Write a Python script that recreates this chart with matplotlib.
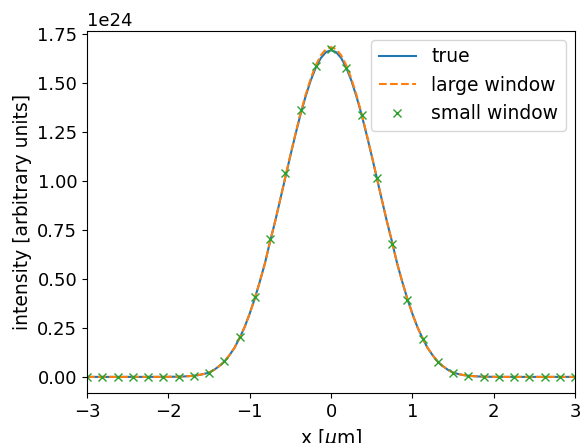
import numpy as np
import matplotlib.pyplot as plt

# true profile (units of 1e24), right half from x=0
x_true = np.arange(-3, 3.0001, 0.0625)
true_right = [1.668, 1.658, 1.628, 1.579, 1.513, 1.432, 1.340, 1.237, 1.129,
              1.017, 0.904, 0.793, 0.690, 0.580, 0.487, 0.400, 0.323, 0.254,
              0.198, 0.148, 0.110, 0.078, 0.055, 0.036, 0.022, 0.015, 0.0095,
              0.006, 0.0037, 0.0022, 0.0012, 0.0007, 0.0004, 0.0002, 0.0001,
              0.0, 0.0, 0.0, 0.0, 0.0, 0.0, 0.0, 0.0, 0.0, 0.0, 0.0, 0.0,
              0.0, 0.0]
true_vals = true_right[:0:-1] + true_right

# large window reconstruction
large_right = [1.684, 1.673, 1.642, 1.591, 1.523, 1.440, 1.346, 1.241, 1.132,
               1.019, 0.905, 0.794, 0.690, 0.580, 0.487, 0.400, 0.323, 0.254,
               0.198, 0.148, 0.110, 0.078, 0.055, 0.036, 0.022, 0.015, 0.0095,
               0.006, 0.0037, 0.0022, 0.0012, 0.0007, 0.0004, 0.0002, 0.0001,
               0.0, 0.0, 0.0, 0.0, 0.0, 0.0, 0.0, 0.0, 0.0, 0.0, 0.0, 0.0,
               0.0, 0.0]
large_vals = large_right[:0:-1] + large_right

# small window reconstruction (coarse sampling)
x_small = np.linspace(-3, 3, 33)
small_vals = [0.0, 0.0, 0.0, 0.0, 0.0, 0.0, 0.0, 0.007, 0.022, 0.079, 0.204,
              0.409, 0.704, 1.042, 1.363, 1.589, 1.673, 1.576, 1.336, 1.014,
              0.678, 0.395, 0.193, 0.077, 0.022, 0.005, 0.0, 0.0, 0.0, 0.0,
              0.0, 0.0, 0.0]

scale = 1e24

fig = plt.figure(figsize=(5.82, 4.43), dpi=100)
ax = fig.add_axes([0.1495, 0.112, 0.8385, 0.819])
ax.plot(x_true, np.array(true_vals) * scale, label='true')
ax.plot(x_true, np.array(large_vals) * scale, '--', label='large window')
ax.plot(x_small, np.array(small_vals) * scale, 'x', label='small window')
ax.set_xlim(-3, 3)
ax.set_xlabel(r'x [$\mu$m]', fontsize=13.5)
ax.set_ylabel('intensity [arbitrary units]', fontsize=13.5)
ax.tick_params(labelsize=13)
ax.yaxis.get_offset_text().set_fontsize(13)
ax.legend(fontsize=13.5, loc='upper right')

fig.savefig('out.png', dpi=100)
